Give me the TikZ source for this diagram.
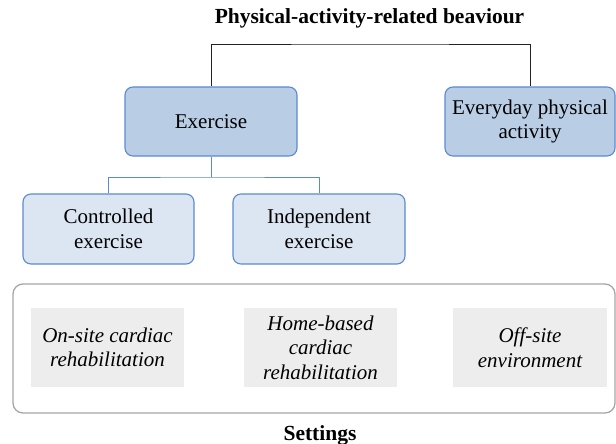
\documentclass[tikz,border=0pt]{standalone}
\usepackage{fontspec}
\setmainfont{Liberation Serif}
\definecolor{mainfill}{HTML}{B9CDE5}
\definecolor{subfill}{HTML}{DCE6F2}
\definecolor{boxedge}{HTML}{5A8AD2}
\definecolor{setfill}{HTML}{EDEDED}
\definecolor{frameedge}{HTML}{A6A6A6}
\definecolor{inkgray}{HTML}{222222}
\begin{document}
\begin{tikzpicture}[x=1pt,y=-1pt,
  txt/.style={font=\fontsize{21}{24.5}\selectfont, text=black, align=center, inner sep=0pt},
  mainbox/.style={txt, draw=boxedge, fill=mainfill, line width=1.1pt, rounded corners=8pt,
    minimum height=69pt},
  subbox/.style={txt, draw=boxedge, fill=subfill, line width=1.1pt, rounded corners=8pt,
    minimum width=171pt, minimum height=70pt},
  setbox/.style={txt, fill=setfill, font=\fontsize{21}{24.5}\selectfont\itshape,
    minimum width=153pt, minimum height=79pt},
  heading/.style={txt, font=\fontsize{21.5}{24}\selectfont\bfseries},
  topline/.style={draw=inkgray, line width=0.9pt},
  subline/.style={draw=boxedge, line width=0.9pt}]
  \useasboundingbox (0,0) rectangle (616,444);

  % title and top level
  \node[heading] (title) at (369.5,18) {Physical-activity-related beaviour};
  \node[mainbox, minimum width=172pt] (ex) at (211,121.5) {Exercise};
  \node[mainbox, minimum width=170pt] (ev) at (530,121.5) {Everyday physical\\activity};
  \coordinate (hub) at (369.5,44);
  \path[topline] (ex.north) |- (hub) -| (ev.north);

  % kinds of exercise
  \node[subbox] (ce) at (108.5,229) {Controlled\\exercise};
  \node[subbox, minimum width=172pt] (ie) at (319,229) {Independent\\exercise};
  \coordinate (split) at (211,177);
  \path[subline] (ex.south) -- (split);
  \path[subline] (ce.north) |- (split) -| (ie.north);

  % settings
  \node[draw=frameedge, line width=1.3pt, rounded corners=10pt, minimum width=602pt,
        minimum height=129pt, inner sep=0pt] (frame) at (314,348.5) {};
  \node[setbox] (os) at (107.5,347.5) {On-site cardiac\\rehabilitation};
  \node[setbox] (hb) at (320.5,347.5) {Home-based\\cardiac\\rehabilitation};
  \node[setbox, minimum width=154pt] (off) at (530,347.5) {Off-site\\environment};
  \node[heading] (settings) at (320,435) {Settings};
\end{tikzpicture}
\end{document}
